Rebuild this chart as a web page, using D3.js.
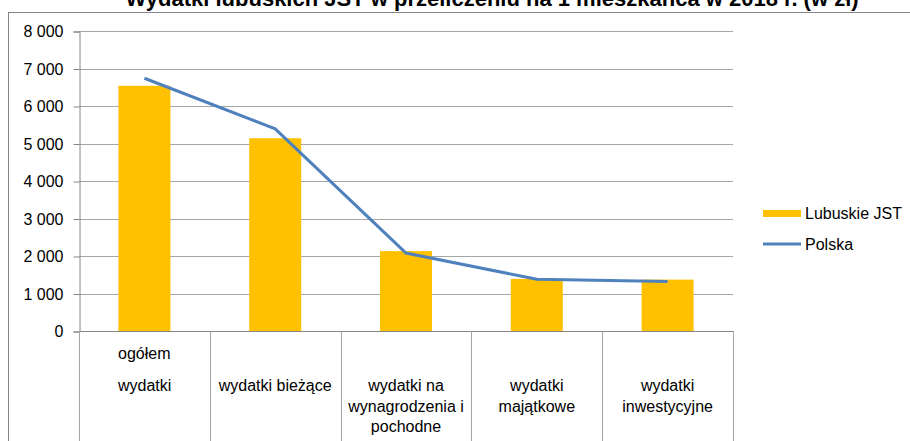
<!DOCTYPE html>
<html>
<head>
<meta charset="UTF-8"/>
<title>Wydatki lubuskich JST</title>
<style>
  body { margin: 0; background: #fff; font-family: Arial, 'Liberation Sans', sans-serif; }
  svg text { font-family: Arial, 'Liberation Sans', sans-serif; }
  .tick text { font-size: 16px; fill: #000; }
  .cat { font-size: 16px; fill: #000; }
  .legend { font-size: 16px; fill: #000; }
</style>
<script src="https://d3js.org/d3.v7.min.js"></script>
</head>
<body>
<svg width="910" height="441"></svg>
<script>
var categories = ["ogółem wydatki", "wydatki bieżące", "wydatki na wynagrodzenia i pochodne", "wydatki majątkowe", "wydatki inwestycyjne"];
// label lines as drawn under each category
var catLines = [["ogółem", "", "wydatki"], ["", "", "wydatki bieżące"], ["", "", "wydatki na", "wynagrodzenia i", "pochodne"], ["", "", "wydatki", "majątkowe"], ["", "", "wydatki", "inwestycyjne"]];
var lubuskie = [6540, 5140, 2130, 1390, 1370];
var polska = [6740, 5390, 2080, 1380, 1320];
var yTicks = [0, 1000, 2000, 3000, 4000, 5000, 6000, 7000, 8000];

var svg = d3.select("svg");
var plotL = 79, plotR = 733, plotT = 31, plotB = 331;

var x = d3.scaleBand().domain(categories).range([plotL, plotR]).paddingInner(0).paddingOuter(0);
var y = d3.scaleLinear().domain([0, 8000]).range([plotB, plotT]);
var fmt = function(d) { return d3.format(",")(d).replace(",", " "); };

// outer frame
svg.append("line").attr("x1", 8.5).attr("x2", 8.5).attr("y1", 12).attr("y2", 441).attr("stroke", "#868686");
svg.append("line").attr("x1", 8).attr("x2", 910).attr("y1", 12.5).attr("y2", 12.5).attr("stroke", "#868686");

// title (clipped at top like original)
svg.append("text")
  .attr("x", 492).attr("y", 6)
  .attr("text-anchor", "middle")
  .style("font-size", "22px").style("font-weight", "bold")
  .text("Wydatki lubuskich JST w przeliczeniu na 1 mieszkańca w 2018 r. (w zł)");

// gridlines
svg.append("g").selectAll("line")
  .data(yTicks.filter(function(d) { return d > 0; }))
  .enter().append("line")
  .attr("x1", plotL).attr("x2", plotR)
  .attr("y1", function(d) { return Math.round(y(d)) + 0.5; })
  .attr("y2", function(d) { return Math.round(y(d)) + 0.5; })
  .attr("stroke", "#a6a6a6");

// y axis
var yAxis = svg.append("g")
  .attr("transform", "translate(" + (plotL + 0.5) + ",0.5)")
  .call(d3.axisLeft(y).tickValues(yTicks).tickFormat(fmt).tickSize(6).tickPadding(10));
yAxis.select(".domain").attr("stroke", "#868686");
yAxis.selectAll(".tick line").attr("stroke", "#868686");
yAxis.selectAll(".tick text").style("font-size", "16px");

// bars
var bw = 52;
svg.append("g").selectAll("rect")
  .data(lubuskie)
  .enter().append("rect")
  .attr("x", function(d, i) { return x(categories[i]) + x.bandwidth() / 2 - bw / 2; })
  .attr("y", function(d) { return y(d); })
  .attr("width", bw)
  .attr("height", function(d) { return y(0) - y(d); })
  .attr("fill", "#FFC000");

// line
var line = d3.line()
  .x(function(d, i) { return x(categories[i]) + x.bandwidth() / 2; })
  .y(function(d) { return y(d); });
svg.append("path").datum(polska)
  .attr("d", line)
  .attr("fill", "none")
  .attr("stroke", "#4F81BD")
  .attr("stroke-width", 3);

// x axis line and category dividers
svg.append("line").attr("x1", plotL).attr("x2", plotR).attr("y1", plotB + 0.5).attr("y2", plotB + 0.5).attr("stroke", "#868686");
var divs = categories.map(function(c) { return x(c); }).concat([plotR]);
svg.append("g").selectAll("line")
  .data(divs)
  .enter().append("line")
  .attr("x1", function(d) { return Math.round(d) + 0.5; })
  .attr("x2", function(d) { return Math.round(d) + 0.5; })
  .attr("y1", plotB).attr("y2", 441)
  .attr("stroke", "#a6a6a6");

// category labels
var cg = svg.append("g");
catLines.forEach(function(lines, i) {
  var cx = x(categories[i]) + x.bandwidth() / 2;
  lines.forEach(function(t, j) {
    if (!t) return;
    var yy = i === 0 ? (j === 0 ? 359 : 391) : 391 + (j - 2) * 20.5;
    cg.append("text")
      .attr("class", "cat")
      .attr("x", i === 0 ? 118 : cx)
      .attr("y", yy)
      .attr("text-anchor", i === 0 ? "start" : "middle")
      .text(t);
  });
});

// legend
var lg = svg.append("g");
lg.append("rect").attr("x", 763).attr("y", 210).attr("width", 38).attr("height", 7).attr("fill", "#FFC000");
lg.append("text").attr("class", "legend").attr("x", 805).attr("y", 219).text("Lubuskie JST");
lg.append("line").attr("x1", 763).attr("x2", 801).attr("y1", 244).attr("y2", 244).attr("stroke", "#4F81BD").attr("stroke-width", 3);
lg.append("text").attr("class", "legend").attr("x", 805).attr("y", 250).text("Polska");
</script>
</body>
</html>
